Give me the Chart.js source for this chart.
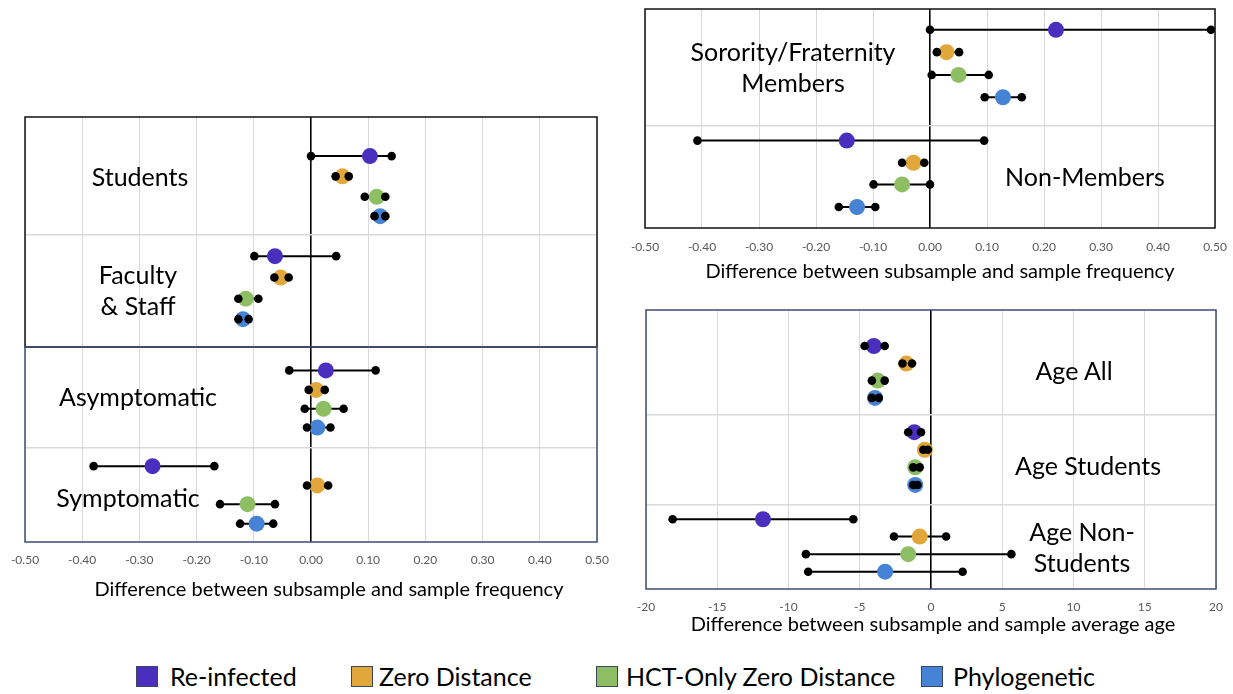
<!DOCTYPE html>
<html>
<head>
<meta charset="utf-8">
<script src="https://cdn.jsdelivr.net/npm/chart.js@4.4.1/dist/chart.umd.min.js"></script>
<style>
  body { margin: 0; width: 1233px; height: 694px; background: #fff; position: relative; overflow: hidden;
         font-family: Lato, "Open Sans", sans-serif; }
  .box { position: absolute; }
  .lbl { position: absolute; transform: translate(-50%, -50%); font-size: 25px; line-height: 31px;
         color: #000; text-align: center; white-space: pre; }
  .ttl { position: absolute; transform: translate(-50%, -50%); font-size: 20px; line-height: 24px;
         color: #000; white-space: nowrap; }
  .sw { position: absolute; width: 20px; height: 19px; border: 1.5px solid #3b4660; top: 666px; }
  .lg { position: absolute; top: 661px; font-size: 25px; line-height: 31px; color: #000; white-space: nowrap; }
</style>
</head>
<body>
<div class="box" style="left:5px;top:107px;width:612px;height:250px"><canvas id="cRole"></canvas></div>
<div class="box" style="left:5px;top:337px;width:612px;height:263px"><canvas id="cSym"></canvas></div>
<div class="box" style="left:625px;top:0px;width:606px;height:283px"><canvas id="cGreek"></canvas></div>
<div class="box" style="left:626px;top:300px;width:606px;height:335px"><canvas id="cAge"></canvas></div>
<div id="legend"></div>
<div id="labels"></div>

<script>
// --- séries e cores ---
const SERIES = ['Re-infected', 'Zero Distance', 'HCT-Only Zero Distance', 'Phylogenetic'];
const COLORS = ['#4a2fbf', '#e1a73b', '#8dbe63', '#4683d6'];

// --- Students / Faculty & Staff (estimativa, limite inferior, limite superior) ---
const groupsRole = ['Students', 'Faculty\n& Staff'];
const estRole  = [[0.103, 0.055, 0.115, 0.121], [-0.063, -0.053, -0.114, -0.119]];
const lowRole  = [[0.000, 0.043, 0.094, 0.111], [-0.099, -0.064, -0.127, -0.127]];
const highRole = [[0.141, 0.066, 0.130, 0.130], [0.044, -0.039, -0.092, -0.109]];
const rowsRole = [[1.70, 2.58, 3.47, 4.31], [6.05, 6.98, 7.90, 8.79]];
const splitRole = [5.11];

// --- Asymptomatic / Symptomatic ---
const groupsSym = ['Asymptomatic', 'Symptomatic'];
const estSym  = [[0.026, 0.009, 0.022, 0.011], [-0.277, 0.011, -0.111, -0.095]];
const lowSym  = [[-0.038, -0.004, -0.011, -0.007], [-0.380, -0.007, -0.159, -0.124]];
const highSym = [[0.113, 0.024, 0.057, 0.034], [-0.169, 0.030, -0.063, -0.066]];
const rowsSym = [[1.20, 2.20, 3.17, 4.13], [6.11, 7.10, 8.06, 9.06]];
const splitSym = [5.16];

// --- Sorority/Fraternity ---
const groupsGreek = ['Sorority/Fraternity\nMembers', 'Non-Members'];
const estGreek  = [[0.221, 0.029, 0.050, 0.128], [-0.146, -0.029, -0.049, -0.128]];
const lowGreek  = [[0.000, 0.012, 0.003, 0.096], [-0.408, -0.049, -0.099, -0.160]];
const highGreek = [[0.493, 0.051, 0.103, 0.161], [0.095, -0.010, 0.000, -0.096]];
const rowsGreek = [[0.95, 1.97, 3.01, 4.03], [6.01, 7.02, 8.01, 9.04]];
const splitGreek = [5.31];

// --- Idade ---
const groupsAge = ['Age All', 'Age Students', 'Age Non-\nStudents'];
const estAge  = [[-4.01, -1.73, -3.74, -3.93], [-1.17, -0.43, -1.11, -1.11], [-11.79, -0.79, -1.60, -3.22]];
const lowAge  = [[-4.66, -2.00, -4.15, -4.15], [-1.60, -0.54, -1.25, -1.25], [-18.13, -2.60, -8.78, -8.62]];
const highAge = [[-3.25, -1.33, -3.25, -3.66], [-0.70, -0.22, -0.79, -0.95], [-5.45, 1.06, 5.64, 2.22]];
const rowsAge = [[1.29, 1.92, 2.53, 3.15], [4.38, 5.01, 5.64, 6.27], [7.50, 8.12, 8.75, 9.38]];
const splitAge = [3.76, 6.99];

const FREQ_TITLE = 'Difference between subsample and sample frequency';
const AGE_TITLE = 'Difference between subsample and sample average age';

// desenha a moldura em volta da área do gráfico
const framePlugin = {
    id: 'frame',
    afterDraw(chart, args, opts) {
        const { ctx, chartArea: a } = chart;
        ctx.save();
        ctx.strokeStyle = opts.color || '#000';
        ctx.lineWidth = 1.5;
        ctx.strokeRect(a.left, a.top, a.right - a.left, a.bottom - a.top);
        ctx.restore();
    }
};

function montarDatasets(est, low, high, rows) {
    const ds = [];
    est.forEach((grupo, g) => {
        grupo.forEach((v, s) => {
            const y = rows[g][s];
            ds.push({ type: 'line', data: [{ x: low[g][s], y }, { x: high[g][s], y }],
                      borderColor: '#000', borderWidth: 2, pointRadius: 0, order: 3 });
            ds.push({ type: 'scatter', data: [{ x: v, y }], backgroundColor: COLORS[s],
                      pointRadius: 8, pointBorderWidth: 0, order: 2 });
            ds.push({ type: 'scatter', data: [{ x: low[g][s], y }, { x: high[g][s], y }],
                      backgroundColor: '#000', pointRadius: 4.3, pointBorderWidth: 0, order: 1 });
        });
    });
    return ds;
}

function criarPainel(id, cfg) {
    const tickFont = { family: 'Lato', size: 12 };
    return new Chart(document.getElementById(id), {
        type: 'scatter',
        data: { datasets: montarDatasets(cfg.est, cfg.low, cfg.high, cfg.rows) },
        plugins: [framePlugin],
        options: {
            responsive: true,
            maintainAspectRatio: false,
            animation: false,
            events: [],
            layout: { padding: cfg.padding },
            plugins: { legend: { display: false }, tooltip: { enabled: false }, frame: { color: cfg.frame } },
            scales: {
                x: {
                    type: 'linear', min: cfg.xmin, max: cfg.xmax,
                    afterFit: sc => {
                        // a margem fica por conta do layout.padding
                        sc.paddingLeft = 0;
                        sc.paddingRight = 0;
                        sc.height = cfg.axisHeight || 0;
                    },
                    ticks: { display: cfg.showTicks, stepSize: cfg.step, padding: cfg.tickPad || 0,
                             color: '#595959', font: tickFont, maxRotation: 0,
                             callback: v => cfg.decimals ? v.toFixed(cfg.decimals) : String(Math.round(v)) },
                    grid: { drawTicks: false,
                            color: c => Math.abs(c.tick.value) < 1e-9 ? '#000' : '#d9d9d9',
                            lineWidth: c => Math.abs(c.tick.value) < 1e-9 ? 1.6 : 1 },
                    border: { display: false }
                },
                y: {
                    type: 'linear', min: 0, max: 10, reverse: true,
                    afterBuildTicks: sc => { sc.ticks = cfg.split.map(v => ({ value: v })); },
                    ticks: { display: false },
                    grid: { drawTicks: false, color: '#d9d9d9', lineWidth: 1.5 },
                    border: { display: false }
                }
            }
        }
    });
}

criarPainel('cRole', { est: estRole, low: lowRole, high: highRole, rows: rowsRole, split: splitRole,
    xmin: -0.5, xmax: 0.5, step: 0.1, decimals: 2, showTicks: false, frame: '#111',
    padding: { left: 20, right: 20, top: 10, bottom: 10 } });
criarPainel('cSym', { est: estSym, low: lowSym, high: highSym, rows: rowsSym, split: splitSym,
    xmin: -0.5, xmax: 0.5, step: 0.1, decimals: 2, showTicks: true, tickPad: 11,
    axisHeight: 58, frame: '#3e4c73', padding: { left: 20, right: 20, top: 10, bottom: 0 } });
criarPainel('cGreek', { est: estGreek, low: lowGreek, high: highGreek, rows: rowsGreek, split: splitGreek,
    xmin: -0.5, xmax: 0.5, step: 0.1, decimals: 2, showTicks: true, tickPad: 12,
    axisHeight: 55, frame: '#111', padding: { left: 20, right: 16, top: 9, bottom: 0 } });
criarPainel('cAge', { est: estAge, low: lowAge, high: highAge, rows: rowsAge, split: splitAge,
    xmin: -20, xmax: 20, step: 5, decimals: 0, showTicks: true, tickPad: 11,
    axisHeight: 46, frame: '#3e4c73', padding: { left: 20, right: 16, top: 10, bottom: 0 } });

// --- rótulos dos grupos e títulos dos eixos ---
function addTexto(classe, txt, x, y, alvo) {
    const d = document.createElement('div');
    d.className = classe;
    d.style.left = x + 'px';
    d.style.top = y + 'px';
    d.textContent = txt;
    alvo.appendChild(d);
}

const labels = document.getElementById('labels');
const labelPos = [
    [groupsRole[0], 140, 176], [groupsRole[1], 138, 290],
    [groupsSym[0], 138, 396], [groupsSym[1], 128, 497],
    [groupsGreek[0], 793, 67], [groupsGreek[1], 1085, 176],
    [groupsAge[0], 1074, 370], [groupsAge[1], 1088, 465], [groupsAge[2], 1082, 547]
];
labelPos.forEach(([txt, x, y]) => addTexto('lbl', txt, x, y, labels));

addTexto('ttl', FREQ_TITLE, 329, 588, labels);
addTexto('ttl', FREQ_TITLE, 940, 270, labels);
addTexto('ttl', AGE_TITLE, 933, 623, labels);

// --- legenda ---
const legendX = [[136, 170], [351, 379], [596, 626], [921, 953]];
const legend = document.getElementById('legend');
SERIES.forEach((nome, i) => {
    const sw = document.createElement('div');
    sw.className = 'sw';
    sw.style.left = legendX[i][0] + 'px';
    sw.style.background = COLORS[i];
    legend.appendChild(sw);
    const t = document.createElement('div');
    t.className = 'lg';
    t.style.left = legendX[i][1] + 'px';
    t.textContent = nome;
    legend.appendChild(t);
});
</script>
</body>
</html>
